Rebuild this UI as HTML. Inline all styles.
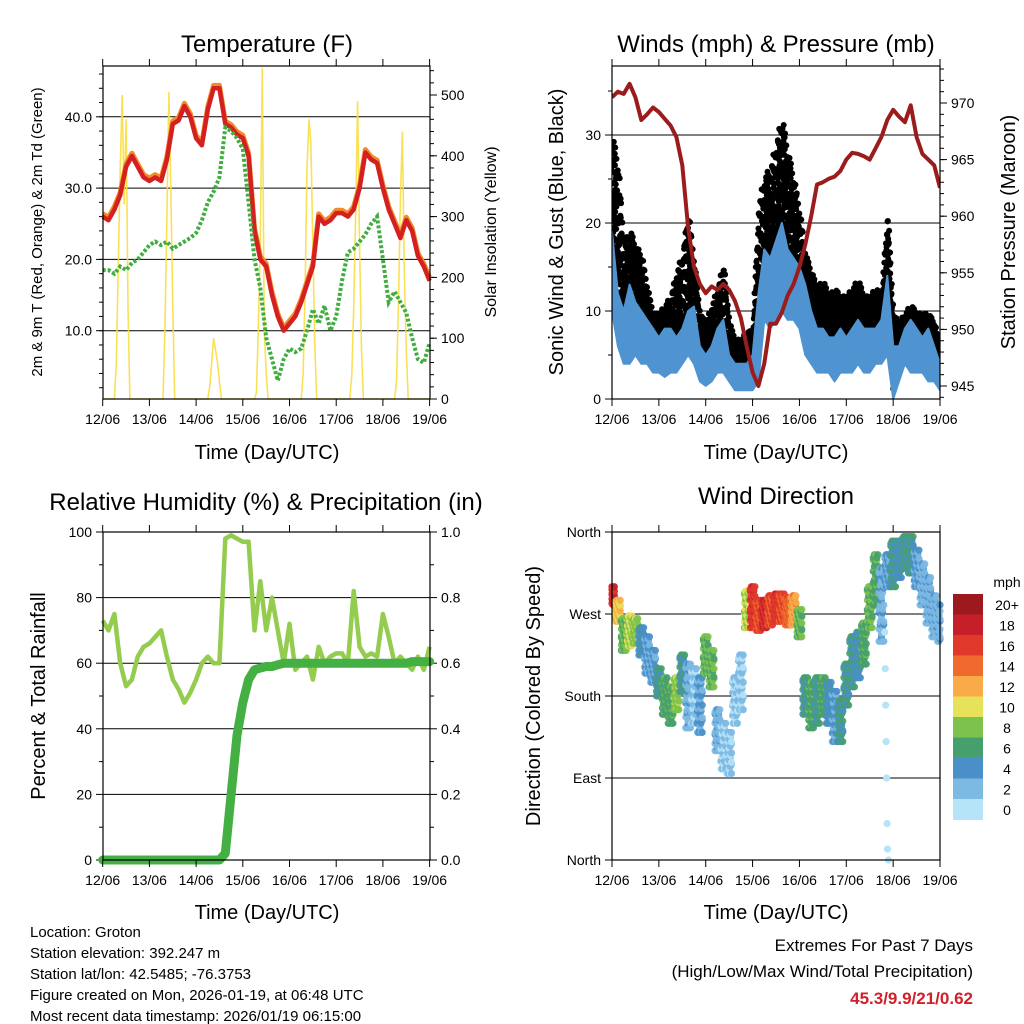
<!DOCTYPE html>
<html><head><meta charset="utf-8"><style>
html,body{margin:0;padding:0;background:#fff;}
svg{display:block;font-family:"Liberation Sans",Arial,sans-serif;}
</style></head><body>
<svg id="chart" width="1024" height="1024" viewBox="0 0 1024 1024" xmlns="http://www.w3.org/2000/svg"></svg>
<script>
const days = [];
for (let i = 0; i <= 56; i++) days.push(i / 8);
const dayLabels = ["12/06","13/06","14/06","15/06","16/06","17/06","18/06","19/06"];

const tempRed = [26,25.5,27,29,33,34.5,33,31.5,31,31.5,31,34,39,39.5,41.5,40,37,36,41,44,44,39,38.5,37.5,37,34.5,24,20,19,15,12,10,11,12,14,16.5,19,26,25,25.5,26.5,26.5,26,27,30,35,34,33.5,30,27,25,23,25.5,24,20.5,19,17];
const dewGreen = [18.5,18.5,18,19,18.5,19.5,20,21,22,22.5,22,22.5,21.5,22,22.5,23,23.7,25.5,28,29.5,31.5,38.5,38,37,35.5,28,20,16,9,6,3,6,7.5,7,7.5,10,13,11,13.5,10,12,17,21,21.5,22.5,23.5,25,26,20,14,15.5,14,12.5,9,6,5.5,8.3];
const solarHour = [6,7,8,9,10,11,12,13,14, 31,32,33,34,35,36,37, 55,56,57,58,59,60,61, 79,80,81,82,83,84,85, 103,104,105,106,107,108,109,110, 128,129,130,131,132,133,134, 151,152,153,154,155,156,157];
const solarVal  = [0,60,220,380,500,320,460,150,0, 0,120,300,505,350,150,0, 20,60,100,80,60,30,0, 10,120,260,545,120,40,0, 40,180,380,460,420,250,90,0, 40,150,310,490,250,80,0, 30,160,330,440,210,80,0];

const pressure = [970.5,971,970.8,971.7,970.5,968.5,969,969.6,969.2,968.6,968,967,964.5,959,955.5,954,953.2,953.8,953.5,954,953.5,952.5,951,948.5,946.2,945,947,950.5,950.5,951.5,953,954,955.5,957.5,960,962.8,963,963.3,963.5,964,965,965.6,965.5,965.3,965,966,967,968.5,969.4,968.8,968.3,969.8,967,965.5,965,964.5,962.5];
const sonicLo = [10,6,4,4,5,4,4,3,3,2.5,3,3,4,5,4,2,1.5,2,3,3,2,1,1,1,1,2,9,8,9,10,9,9,8,5,4,3,3,3,2,3,3,3,4,3,3,4,4,5,0,2,4,3,3,3,2,2,1];
const sonicHi = [19,12,10,13,11,10,9,8,7,8,8,7,8,10,10.5,6,5,6,8,9,5,4,4,4,5,12,17,16,18,20,17,16,15,13,10,8,8,7,7,8,7,8,9,8,8,8,9,14,6,6,8,9,8,7,8,6,4];
const gustLo = [12,8,6,7,6,7,6,4,4,4,5,5,6,8,6,3,3,4,5,5,3,2,2,2,2,8,12,12,14,15,12,11,10,7,6,5,5,5,5,5,5,5,6,5,5,6,6,8,1,4,5,5,5,4,4,3,2];
const gustHi = [31,28,18,20,18,17,13,10,10,11,12,15,17,22,16,10,9,11,13,16,9,7,7,8,8,23,26,27,30,33,29,26,22,17,15,13,14,12,13,12,12,13,14,12,12,13,12,22,10,9,10,11,10,10,10,9,6];

const rh = [73,70,75,60,53,55,62,65,66,68,70,62,55,52,48,51,55,60,62,60,60,98,99,98,97,97,70,85,70,80,70,60,72,58,60,62,55,65,60,62,63,63,60,82,65,62,63,62,75,68,60,62,60,58,62,58,65];
const precip = [0,0,0,0,0,0,0,0,0,0,0,0,0,0,0,0,0,0,0,0,0,0.02,0.2,0.38,0.48,0.55,0.58,0.585,0.59,0.59,0.595,0.6,0.6,0.6,0.6,0.6,0.6,0.6,0.6,0.6,0.6,0.6,0.6,0.6,0.6,0.6,0.6,0.6,0.6,0.6,0.6,0.6,0.6,0.605,0.605,0.605,0.605];

const dirLo = [280,262,230,235,238,225,205,195,180,160,150,165,185,145,150,140,205,190,120,100,95,150,165,255,255,252,255,258,262,262,258,258,245,160,145,150,160,150,130,130,170,190,200,215,255,280,240,300,300,310,320,315,300,280,260,245,240];
const dirHi = [300,285,265,268,265,255,245,230,210,200,190,200,225,215,210,200,245,230,165,150,140,200,225,295,300,285,285,290,292,292,288,290,275,200,195,200,200,195,185,175,215,245,250,260,300,335,320,335,350,350,355,355,340,325,310,290,280];
const windSpd = [18,12,8,10,9,5,4,4,6,7,7,9,6,3,2,4,8,8,3,2,2,2,2,10,17,16,18,16,17,16,15,13,8,6,7,6,7,5,4,6,6,6,5,7,8,7,3,4,6,5,6,6,4,3,3,3,3];
const outDay = [5.82,5.83,5.84,5.85,5.86,5.87,5.88,5.9];
const outDeg = [250,210,170,130,90,40,12,0];
const speedBins = ["0","2","4","6","8","10","12","14","16","18","20+"];
const binColors = ["#b5e3f7","#7cb9e3","#4a8fc8","#46a06e","#7dc24c","#e6e25a","#f8ab48","#ef6a2c","#e0392b","#c61f2a","#9c1a1e"];

const NS = "http://www.w3.org/2000/svg";
const svg = document.getElementById("chart");
function el(tag, attrs, parent) {
  const e = document.createElementNS(NS, tag);
  for (const k in attrs) e.setAttribute(k, attrs[k]);
  (parent || svg).appendChild(e);
  return e;
}
function txt(s, x, y, size, anchor, parent, extra) {
  const t = el("text", Object.assign({x: x, y: y, "font-size": size, "text-anchor": anchor || "middle", fill: "#000"}, extra || {}), parent);
  t.textContent = s;
  return t;
}
function pathD(xs, ys) { return xs.map((x, i) => (i ? "L" : "M") + x.toFixed(1) + "," + ys[i].toFixed(1)).join(""); }

const x1 = d => 102.7 + 46.7 * d;
const x2 = d => 612 + 46.86 * d;
const yT = v => 402 - 7.13 * v;
const yS = v => 399 - 0.608 * v;
const yW = v => 399 - 8.8 * v;
const yP = p => 386 - 11.32 * (p - 945);
const yR = v => 860 - 3.28 * v;
const yPr = v => 860 - 328 * v;
const yD = v => 860 - 0.9111 * v;

function frame(g, L, T, R, B, name) {
  const r = el("rect", {x: L, y: T, width: R - L, height: B - T, fill: "none", stroke: "#000", "stroke-width": 1.2}, g);
  
  
}
function xAxis(g, xf, T, B) {
  for (let i = 0; i < 8; i++) {
    const x = xf(i);
    el("line", {x1: x, y1: T, x2: x, y2: T - 7, stroke: "#000"}, g);
    el("line", {x1: x, y1: B, x2: x, y2: B + 7, stroke: "#000"}, g);
    const t = txt(dayLabels[i], x, B + 25, 14, "middle", g);
    
    
  }
}
function hAxis(g, vals, yf, xEdge, side, labels, minorVals, grid, L, R) {
  const dir = side === "left" ? -1 : 1;
  vals.forEach((v, i) => {
    const y = yf(v);
    if (grid) el("line", {x1: L, y1: y, x2: R, y2: y, stroke: "#000", "stroke-width": 1}, g);
    el("line", {x1: xEdge, y1: y, x2: xEdge + dir * 7, y2: y, stroke: "#000"}, g);
    const t = txt(labels[i], xEdge + dir * 11, y + 5, 14, side === "left" ? "end" : "start", g);
    
    
  });
  minorVals.forEach(v => { const y = yf(v); el("line", {x1: xEdge, y1: y, x2: xEdge + dir * 4, y2: y, stroke: "#000"}, g); });
}
function rng(a, b, s) { const r = []; for (let v = a; v <= b + 1e-9; v += s) r.push(+v.toFixed(3)); return r; }

// Panel 1
const g1 = el("g", {});


hAxis(g1, [10,20,30,40], yT, 103, "left", ["10.0","20.0","30.0","40.0"], rng(2,46,2), true, 103, 430);
hAxis(g1, [0,100,200,300,400,500], yS, 430, "right", ["0","100","200","300","400","500"], rng(20,540,20), false);
const solarFull = new Array(169).fill(0);
solarHour.forEach((h, i) => { solarFull[h] = solarVal[i]; });
const sp = el("path", {d: pathD(solarFull.map((v, i) => x1(i / 24)), solarFull.map(v => yS(v))), fill: "none", stroke: "#f8de45", "stroke-width": 1.6, opacity: 0.9}, g1);


const oline = el("path", {d: pathD(days.map(x1), tempRed.map(v => yT(v + 0.4))), fill: "none", stroke: "#f08a2a", "stroke-width": 5, "stroke-linejoin": "round"}, g1);


const rline = el("path", {d: pathD(days.map(x1), tempRed.map(yT)), fill: "none", stroke: "#d42020", "stroke-width": 4.5, "stroke-linejoin": "round"}, g1);


const gline = el("path", {d: pathD(days.map(x1), dewGreen.map(yT)), fill: "none", stroke: "#3fae3f", "stroke-width": 4, "stroke-dasharray": "3 2"}, g1);


frame(g1, 103, 66, 430, 399, "temperature-plot-frame");
xAxis(g1, x1, 66, 399);
let t;
t = txt("Temperature (F)", 267, 52, 24, "middle", g1);  
t = txt("Time (Day/UTC)", 267, 459, 20, "middle", g1);  
t = txt("2m & 9m T (Red, Orange) & 2m Td (Green)", 0, 0, 15, "middle", g1, {transform: "translate(42,232) rotate(-90)"});  
t = txt("Solar Insolation (Yellow)", 0, 0, 16, "middle", g1, {transform: "translate(496,232) rotate(-90)"});  

// Panel 2
const g2 = el("g", {});


hAxis(g2, [0,10,20,30], yW, 612, "left", ["0","10","20","30"], rng(5,35,5), true, 612, 940);
hAxis(g2, [945,950,955,960,965,970], yP, 940, "right", ["945","950","955","960","965","970"], rng(944,973,1), false);
const cp = el("clipPath", {id: "c2"}, g2);
el("rect", {x: 612, y: 66, width: 328, height: 333}, cp);
const g2c = el("g", {"clip-path": "url(#c2)"}, g2);
const fr = [0.02,0.12,0.22,0.32,0.42,0.52,0.62,0.72,0.82,0.9,0.97];
for (let i = 0; i < days.length - 1; i++) {
  for (let k = 0; k < 6; k++) {
    const f = k / 6;
    const lo = gustLo[i] + (gustLo[i + 1] - gustLo[i]) * f;
    const hi = gustHi[i] + (gustHi[i + 1] - gustHi[i]) * f;
    fr.forEach((q, j) => {
      const qq = ((j * 7 + k * 3) % 5) / 5 * 0.1 + q * 0.9;
      const c = el("circle", {cx: x2(days[i] + f * 0.125 + ((j * 5 + k) % 4) * 0.006), cy: yW(lo + (hi - lo) * qq), r: 3, fill: "#000"}, g2c);
      
      
    });
  }
}
const bandX = days.map(x2).concat(days.map(x2).reverse());
const bandY = sonicHi.map(yW).concat(sonicLo.map(yW).reverse());
const band = el("path", {d: pathD(bandX, bandY) + "Z", fill: "#4f94d0", stroke: "#4f94d0", "stroke-width": 2, "stroke-linejoin": "round"}, g2c);


const pl = el("path", {d: pathD(days.map(x2), pressure.map(yP)), fill: "none", stroke: "#9b1c1c", "stroke-width": 4, "stroke-linejoin": "round"}, g2c);


frame(g2, 612, 66, 940, 399, "winds-plot-frame");
xAxis(g2, x2, 66, 399);
t = txt("Winds (mph) & Pressure (mb)", 776, 52, 24, "middle", g2);  
t = txt("Time (Day/UTC)", 776, 459, 20, "middle", g2);  
t = txt("Sonic Wind & Gust (Blue, Black)", 0, 0, 20, "middle", g2, {transform: "translate(563,232) rotate(-90)"});  
t = txt("Station Pressure (Maroon)", 0, 0, 20, "middle", g2, {transform: "translate(1015,232) rotate(-90)"});  

// Panel 3
const g3 = el("g", {});


hAxis(g3, [0,20,40,60,80,100], yR, 103, "left", ["0","20","40","60","80","100"], rng(10,90,20), true, 103, 430);
hAxis(g3, [0,0.2,0.4,0.6,0.8,1.0], yPr, 430, "right", ["0.0","0.2","0.4","0.6","0.8","1.0"], rng(0.1,0.9,0.2), false);
const rl = el("path", {d: pathD(days.map(x1), rh.map(yR)), fill: "none", stroke: "#93cc4f", "stroke-width": 4.5, "stroke-linejoin": "round"}, g3);


const prl = el("path", {d: pathD(days.map(x1), precip.map(yPr)), fill: "none", stroke: "#44b044", "stroke-width": 9, "stroke-linejoin": "round", "stroke-linecap": "round"}, g3);


frame(g3, 103, 532, 430, 860, "humidity-plot-frame");
xAxis(g3, x1, 532, 860);
t = txt("Relative Humidity (%) & Precipitation (in)", 266, 510, 24, "middle", g3);  
t = txt("Time (Day/UTC)", 267, 919, 20, "middle", g3);  
t = txt("Percent & Total Rainfall", 0, 0, 20, "middle", g3, {transform: "translate(45,696) rotate(-90)"});  

// Panel 4
const g4 = el("g", {});


hAxis(g4, [0,90,180,270,360], yD, 612, "left", ["North","East","South","West","North"], [], true, 612, 940);
const binOf = s => Math.min(10, Math.max(0, Math.floor(s / 2)));
const dfr = [0,0.17,0.33,0.5,0.67,0.83,1];
for (let i = 0; i < days.length; i++) {
  for (let k = 0; k < 5; k++) {
    const dd = days[i] + (k - 2) * 0.025;
    if (dd < 0 || dd > 7) continue;
    dfr.forEach((q, j) => {
      const qq = Math.min(1, Math.max(0, q + (((j + k) % 3) - 1) * 0.06));
      const c = el("circle", {cx: x2(dd), cy: yD(dirLo[i] + (dirHi[i] - dirLo[i]) * qq), r: 3.6, fill: binColors[binOf(windSpd[i] + ((j + k) % 3 - 1))], opacity: 0.92}, g4);
      
      
    });
  }
}
outDay.forEach((d, i) => {
  const c = el("circle", {cx: x2(d), cy: yD(outDeg[i]), r: 3.6, fill: binColors[0]}, g4);
  
  
});
frame(g4, 612, 532, 940, 860, "direction-plot-frame");
xAxis(g4, x2, 532, 860);
t = txt("Wind Direction", 776, 504, 24, "middle", g4);  
t = txt("Time (Day/UTC)", 776, 919, 20, "middle", g4);  
t = txt("Direction (Colored By Speed)", 0, 0, 20, "middle", g4, {transform: "translate(540,696) rotate(-90)"});  
const cb = el("g", {}, g4);


const cbTop = 594, cbH = 20.5;
for (let i = 0; i < 11; i++) {
  const idx = 10 - i;
  const r = el("rect", {x: 953, y: cbTop + i * cbH, width: 30, height: cbH + 0.5, fill: binColors[idx]}, cb);
  
  
  const l = txt(speedBins[idx], 1007, cbTop + i * cbH + 16, 14, "middle", cb);
  
  
}
t = txt("mph", 1007, 587, 14, "middle", cb);  

// Footer
const info = ["Location: Groton","Station elevation: 392.247 m","Station lat/lon: 42.5485; -76.3753","Figure created on Mon, 2026-01-19, at 06:48 UTC","Most recent data timestamp: 2026/01/19 06:15:00"];
info.forEach((s, i) => {
  const l = txt(s, 30, 937 + i * 21, 15, "start");
  
  
});
t = txt("Extremes For Past 7 Days", 973, 951, 17, "end");  
t = txt("(High/Low/Max Wind/Total Precipitation)", 973, 977, 17, "end");  
t = txt("45.3/9.9/21/0.62", 973, 1004, 17, "end", null, {fill: "#d0202a", "font-weight": "bold"});  
</script>
</body></html>
